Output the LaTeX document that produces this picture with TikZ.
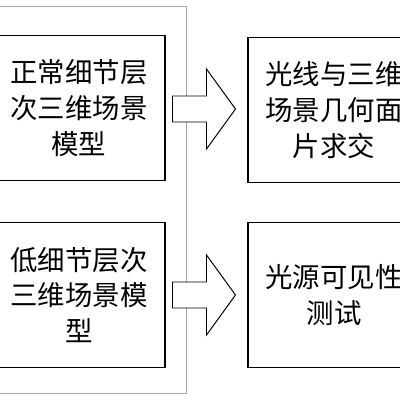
\documentclass[tikz,border=0pt]{standalone}
\usepackage{fontspec}
\newfontfamily\cjk{Noto Sans CJK SC}
\usetikzlibrary{calc, positioning}

\tikzset{
    stepbox/.style={draw, line width=1pt, minimum width=43mm, minimum height=36.3mm,
        align=center, inner sep=0pt, font=\cjk\fontsize{19.5}{25.5}\selectfont},
    fatarrow/.style={draw, line width=0.7pt, fill=white},
}

% block arrow centred between two boxes
\newcommand{\blockarrow}[1]{
    \draw[fatarrow] (#1) ++(-34,-13) -- ++(34,0) -- ++(0,-27) -- ++(29,40)
        -- ++(-29,40) -- ++(0,-27) -- ++(-34,0) -- cycle;
}

\begin{document}
\begin{tikzpicture}[x=0.25mm, y=-0.25mm]
    \clip (0,0) rectangle (400,400);
    \fill[white] (0,0) rectangle (400,400);
    % outer frame
    \draw[gray!70, line width=0.7pt] (-15,6) rectangle (186,393);
    % boxes
    \node[stepbox] (hi)  at (79,108)  {正常细节层\\次三维场景\\模型};
    \node[stepbox] (low) at (79,295)  {低细节层次\\三维场景模\\型};
    \node[stepbox] (ray) at (334,110) {光线与三维\\场景几何面\\片求交};
    \node[stepbox] (vis) at (334,295) {光源可见性\\测试};
    % arrows
    \blockarrow{$(hi.east)!0.5!(ray.west)$}
    \blockarrow{$(low.east)!0.5!(vis.west)$}
\end{tikzpicture}
\end{document}
